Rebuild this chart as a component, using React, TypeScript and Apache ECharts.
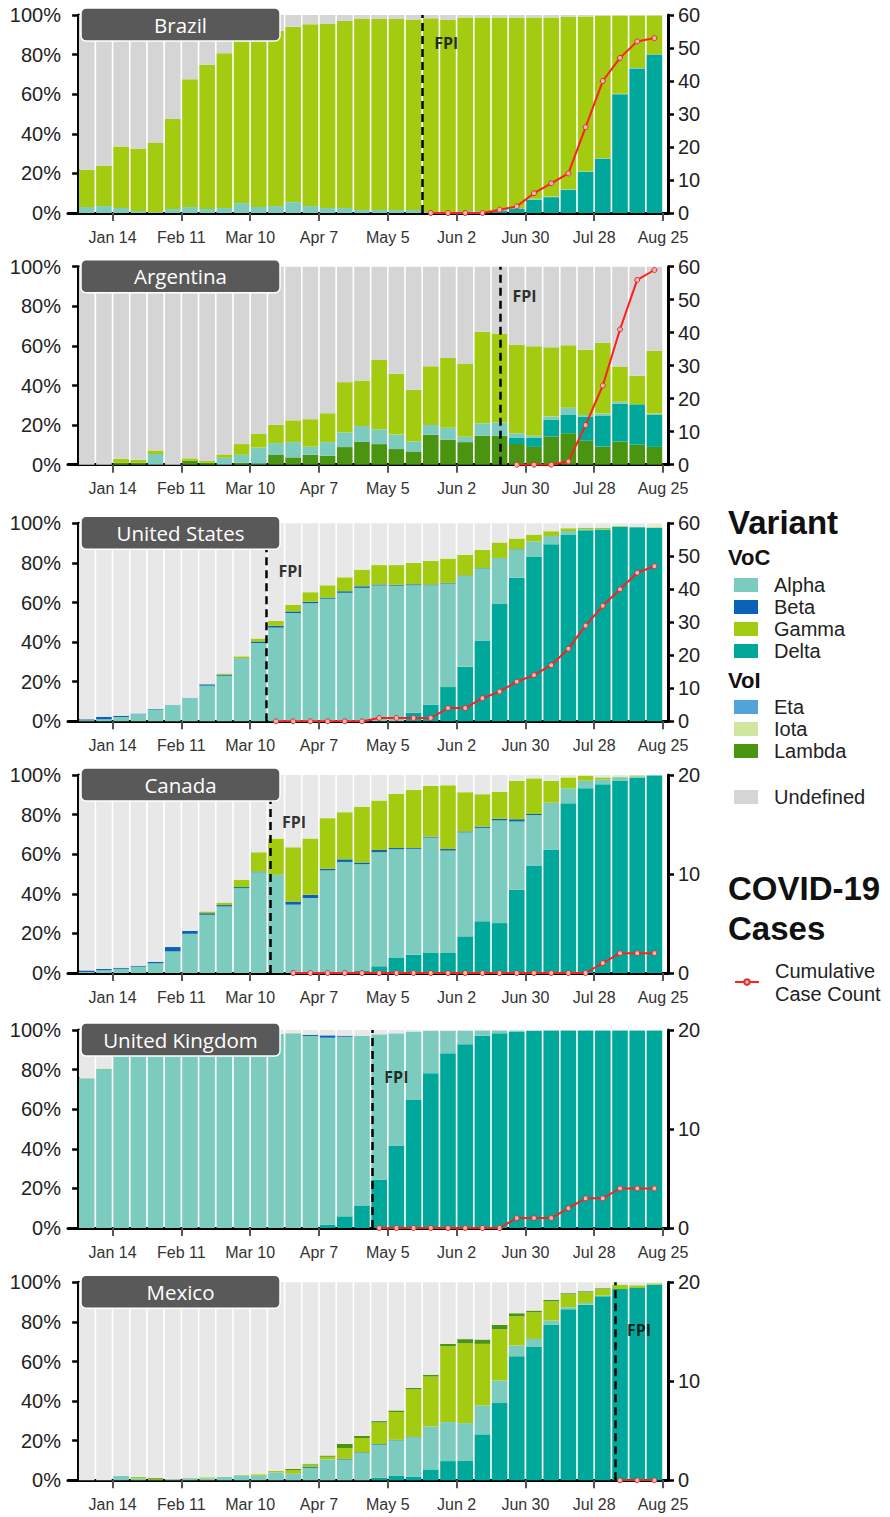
import React, { useEffect, useRef } from "react";
import * as echarts from "echarts";

// ---------- axis ticks ----------
const TICK_POS = [2, 6, 10, 14, 18, 22, 26, 30, 34];
const TICK_LABELS = ["Jan 14", "Feb 11", "Mar 10", "Apr 7", "May 5", "Jun 2", "Jun 30", "Jul 28", "Aug 25"];

// ---------- Brazil ----------
const BR_DELTA = [0, 0, 0, 0, 0, 0, 0, 0, 0, 0, 0, 0, 0, 0, 0, 0, 0, 0, 0, 0, 0, 0, 0.5, 0.5, 1, 2, 6.7, 8, 11.7, 20.8, 27.4, 60, 73, 80];
const BR_ALPHA = [3, 3.5, 2.5, 1, 0.5, 2, 3, 2, 2.5, 5, 3, 3.5, 5.5, 3.5, 2.5, 2.5, 1.5, 1.5, 1.5, 1.5, 0.5, 0.5, 0.5, 0.5, 0.5, 0.5, 0.5, 0.3, 0.3, 0.3, 0.3, 0.2, 0.2, 0.2];
const BR_GAMMA = [18.8, 20.4, 31.1, 31.6, 34.8, 45.6, 64.6, 72.8, 78.2, 83, 87, 88.5, 88.6, 91.8, 93, 94.5, 96.5, 96.5, 96.5, 96, 97.8, 97, 97.8, 97.8, 97.3, 96.3, 91.6, 90.5, 87, 78.2, 71.8, 39.5, 26.5, 19.6];
const BR_CASES_START = 20;
const BR_CASES = [0, 0, 0, 0, 1, 2, 6, 9, 12, 26, 40, 47, 52, 53];

// ---------- Argentina ----------
const AR_LAMBDA = [0, 0, 1, 1, 0, 0, 2, 1, 0, 1, 0.5, 4.9, 3.7, 5, 4.5, 8.9, 11.5, 10.4, 7.9, 6.7, 15.1, 12.7, 11.4, 14.6, 14.6, 10.4, 9, 14.2, 15.9, 12.1, 9.2, 11.7, 10.1, 9];
const AR_DELTA = [0, 0, 0, 0, 0, 0, 0, 0, 0, 0, 0, 0, 0, 0, 0, 0, 0, 0, 0, 0, 0, 0, 0, 0, 0, 3.3, 4.7, 8.6, 9.2, 12.2, 15.4, 19.1, 20.4, 16.1];
const AR_ALPHA = [0, 0, 0, 0, 5.4, 0, 0, 0, 3.5, 4, 8.2, 6, 7.7, 4.1, 6.9, 7.4, 8, 7.5, 7.3, 5, 5, 5.9, 2.7, 6.2, 6.7, 2.2, 0.9, 1.5, 3.7, 0.8, 1.2, 1, 0, 0.7];
const AR_GAMMA = [0, 0, 2, 1.5, 1.8, 0, 1.2, 1, 1.7, 5.4, 6.8, 9.3, 11, 13.9, 14.6, 25.4, 23, 35, 30.7, 26.2, 29.6, 35.3, 37, 46.4, 44.9, 44.6, 45.2, 35, 31.5, 33, 35.8, 17.8, 14.4, 31.8];
const AR_CASES_START = 25;
const AR_CASES = [0, 0, 0, 1, 12, 24, 41, 56, 59];

// ---------- United States ----------
const US_DELTA = [0, 0, 0, 0, 0, 0, 0, 0, 0, 0, 0, 0, 0, 0, 0, 0, 0, 0, 0, 4.4, 8.4, 17.3, 27.5, 40.8, 59.2, 72.5, 83.2, 89.4, 94.1, 96.5, 96.6, 98.3, 98, 97.6];
const US_ALPHA = [0.6, 1, 2.2, 3.4, 5.7, 8, 11.5, 18, 23, 31.2, 39.6, 47.3, 54.7, 59.7, 61.9, 64.9, 67.4, 68.6, 68.5, 64.4, 60.4, 52.3, 46, 36.4, 23.2, 14.4, 7.6, 4.2, 2, 0.5, 0.5, 0.1, 0.1, 0.1];
const US_BETA = [0.4, 1.3, 0.6, 0, 0, 0, 0, 0.7, 0.5, 0, 0.7, 0.9, 0.8, 0.7, 0.6, 0.8, 0.8, 0.5, 0.4, 0.4, 0.3, 0.3, 0.2, 0.2, 0.1, 0.1, 0, 0, 0, 0, 0, 0, 0, 0];
const US_ETA = [0, 0, 0, 0.6, 0.5, 0.4, 0.4, 0, 0, 0.6, 0, 0, 0, 0, 0, 0, 0, 0, 0, 0, 0, 0, 0, 0, 0, 0, 0, 0, 0, 0, 0, 0, 0, 0];
const US_GAMMA = [0, 0, 0, 0, 0, 0, 0, 0, 0.7, 1, 1.5, 2.5, 3.4, 4.8, 6.2, 7, 8.4, 9.8, 10, 10.8, 11.9, 12.3, 10.4, 9.2, 7.8, 5.3, 3.5, 2.4, 1.4, 0.8, 0.7, 0.3, 0.2, 0.3];
const US_CASES_START = 11;
const US_CASES = [0, 0, 0, 0, 0, 0, 1, 1, 1, 1, 4, 4, 7, 9, 12, 14, 17, 22, 29, 35, 40, 45, 47];

// ---------- Canada ----------
const CA_DELTA = [0, 0, 0, 0, 0, 0, 0, 0, 0, 0, 0, 0, 0, 0, 0, 0, 1.3, 3.4, 7.6, 9.2, 10.1, 10.1, 18.5, 26.1, 25.2, 42, 54.3, 62.2, 85.7, 93.3, 95.3, 97, 98.8, 99.8];
const CA_ALPHA = [0.5, 1.4, 2.2, 3.2, 4.9, 10.9, 19.8, 29.4, 33.6, 42.9, 50.9, 49.6, 34.5, 37.8, 51.8, 56.1, 53.7, 57.6, 54.9, 53.5, 58.3, 51.7, 52.5, 47.2, 51.9, 34.5, 25.5, 23.8, 7.6, 3.8, 2.5, 1.8, 0.5, 0.2];
const CA_BETA = [0.8, 0.6, 0.5, 0.5, 0.8, 2.2, 1.4, 0.8, 0.7, 0.5, 0.4, 0, 1.6, 1.7, 0.8, 1.3, 0.8, 1.1, 0.6, 0.4, 0.4, 0.8, 0.5, 0.6, 0.8, 1.2, 0.5, 0, 0, 0, 0, 0, 0, 0];
const CA_GAMMA = [0, 0, 0, 0, 0, 0, 0, 0.9, 1.3, 3.7, 9.7, 18.3, 27.4, 28.4, 25.6, 23.8, 28.2, 25, 27.3, 29.3, 25.7, 32.2, 19.8, 16.4, 13.7, 19.3, 18, 11.1, 5.5, 2.6, 1, 0.4, 0.5, 0];
const CA_CASES_START = 12;
const CA_CASES = [0, 0, 0, 0, 0, 0, 0, 0, 0, 0, 0, 0, 0, 0, 0, 0, 0, 0, 1, 2, 2, 2];

// ---------- United Kingdom ----------
const UK_DELTA = [0, 0, 0, 0, 0, 0, 0, 0, 0, 0, 0, 0, 0, 0, 1.7, 5.9, 11.4, 24.4, 41.7, 64.7, 78.2, 88.2, 92.8, 97.1, 98.3, 99.3, 99.5, 99.7, 99.7, 99.7, 99.7, 99.7, 99.7, 99.7];
const UK_ALPHA = [75.6, 80.3, 87, 89, 91, 92.5, 94, 95, 96, 97, 97.5, 98, 98.3, 97, 94.4, 90.7, 85.7, 73.4, 56.6, 34.5, 21.3, 11.4, 6.9, 2.7, 1.5, 0.5, 0.3, 0.2, 0.2, 0.2, 0.2, 0.2, 0.2, 0.2];
const UK_BETA = [0, 0, 0, 0, 0, 0, 0, 0, 0, 0, 0, 0, 0, 0.5, 1.2, 0.5, 0, 0, 0, 0, 0, 0, 0, 0, 0, 0, 0, 0, 0, 0, 0, 0, 0, 0];
const UK_IOTA = [0.4, 0.4, 0, 0, 0, 0, 0, 0, 0, 0, 0, 0, 0.3, 0.3, 0, 0, 0, 0, 0, 0, 0, 0, 0, 0, 0, 0, 0, 0, 0, 0, 0, 0, 0, 0];
const UK_CASES_START = 17;
const UK_CASES = [0, 0, 0, 0, 0, 0, 0, 0, 1, 1, 1, 2, 3, 3, 4, 4, 4];

// ---------- Mexico ----------
const MX_DELTA = [0, 0, 0, 0, 0, 0, 0, 0, 0, 0, 0, 0, 0, 0, 0, 0, 0, 1.3, 2.2, 1.7, 5.5, 9.7, 10, 23.2, 39, 62.7, 67.6, 78.5, 86.4, 88.7, 92.9, 96.6, 97.1, 98.8];
const MX_ALPHA = [0, 0, 2.3, 1, 0.2, 0.3, 1, 1, 1.7, 2.5, 2.3, 4, 3.3, 6.3, 10.5, 10.5, 13.8, 16.7, 18, 20.1, 21.7, 19.7, 18.9, 14.6, 11.4, 5.4, 3.8, 2.2, 1, 0.9, 0.4, 0, 0, 0];
const MX_BETA = [0, 0, 0, 0, 0, 0, 0, 0, 0, 0, 0, 0, 0, 0.4, 0, 0.3, 0.3, 0.3, 0.3, 0.3, 0, 0, 0, 0, 0, 0, 0, 0, 0, 0, 0, 0, 0, 0];
const MX_GAMMA = [0, 0, 0, 0.7, 0.6, 0, 0.2, 0.5, 0, 0.3, 0.7, 0.7, 1.9, 1.3, 1.4, 5.4, 7.2, 10.9, 14, 23.8, 25.2, 38.3, 40.3, 31.1, 25.9, 14.8, 13.5, 9.7, 6.6, 5.4, 3.3, 2.2, 1.4, 0.7];
const MX_LAMBDA = [0, 0, 0, 0, 0.4, 0, 0, 0, 0, 0, 0, 0, 0.5, 0.4, 0.6, 2.2, 1.1, 0.7, 0.8, 0.8, 0.9, 1.2, 2.1, 2.2, 2.2, 1.5, 0.8, 0.7, 0.5, 0.5, 0.4, 0, 0, 0];
const MX_CASES_START = 31;
const MX_CASES = [0, 0, 0];

// ---------- styling ----------
const COLORS: Record<string, string> = {
  Alpha: "#7BCBBF",
  Beta: "#0B61B5",
  Gamma: "#A3CB0F",
  Delta: "#00A89B",
  Eta: "#52A4D8",
  Iota: "#CFE69C",
  Lambda: "#4B9412",
};
const GRAY_DARK = "#D5D5D5";
const GRAY_LIGHT = "#E8E8E8";
const FONT = 'Arial, "Liberation Sans", sans-serif';
const XMIN = -0.59;
const XMAX = 34.29;
const GRID_LEFT = 68;
const GRID_WIDTH = 600;
const GRID_HEIGHT = 198;
const BAR_W = 15.6;

type StackItem = { name: string; values: number[] };
type Panel = {
  country: string;
  top: number;
  rightMax: number;
  undefColor: string;
  fpi: number;
  fpiLabelY: number;
  stack: StackItem[];
  casesStart: number;
  cases: number[];
};

const PANELS: Panel[] = [
  {
    country: "Brazil", top: 15, rightMax: 60, undefColor: GRAY_DARK, fpi: 20, fpiLabelY: 86,
    stack: [{ name: "Delta", values: BR_DELTA }, { name: "Alpha", values: BR_ALPHA }, { name: "Gamma", values: BR_GAMMA }],
    casesStart: BR_CASES_START, cases: BR_CASES,
  },
  {
    country: "Argentina", top: 266.7, rightMax: 60, undefColor: GRAY_DARK, fpi: 24.55, fpiLabelY: 85,
    stack: [{ name: "Lambda", values: AR_LAMBDA }, { name: "Delta", values: AR_DELTA }, { name: "Alpha", values: AR_ALPHA }, { name: "Gamma", values: AR_GAMMA }],
    casesStart: AR_CASES_START, cases: AR_CASES,
  },
  {
    country: "United States", top: 523.3, rightMax: 60, undefColor: GRAY_LIGHT, fpi: 10.95, fpiLabelY: 76,
    stack: [{ name: "Delta", values: US_DELTA }, { name: "Alpha", values: US_ALPHA }, { name: "Beta", values: US_BETA }, { name: "Eta", values: US_ETA }, { name: "Gamma", values: US_GAMMA }],
    casesStart: US_CASES_START, cases: US_CASES,
  },
  {
    country: "Canada", top: 775, rightMax: 20, undefColor: GRAY_LIGHT, fpi: 11.15, fpiLabelY: 76.4,
    stack: [{ name: "Delta", values: CA_DELTA }, { name: "Alpha", values: CA_ALPHA }, { name: "Beta", values: CA_BETA }, { name: "Gamma", values: CA_GAMMA }],
    casesStart: CA_CASES_START, cases: CA_CASES,
  },
  {
    country: "United Kingdom", top: 1030, rightMax: 20, undefColor: GRAY_LIGHT, fpi: 17.1, fpiLabelY: 76.4,
    stack: [{ name: "Delta", values: UK_DELTA }, { name: "Alpha", values: UK_ALPHA }, { name: "Beta", values: UK_BETA }, { name: "Iota", values: UK_IOTA }],
    casesStart: UK_CASES_START, cases: UK_CASES,
  },
  {
    country: "Mexico", top: 1282.3, rightMax: 20, undefColor: GRAY_LIGHT, fpi: 31.2, fpiLabelY: 76,
    stack: [{ name: "Delta", values: MX_DELTA }, { name: "Alpha", values: MX_ALPHA }, { name: "Beta", values: MX_BETA }, { name: "Gamma", values: MX_GAMMA }, { name: "Lambda", values: MX_LAMBDA }],
    casesStart: MX_CASES_START, cases: MX_CASES,
  },
];

function buildOption() {
  const grid: any[] = [];
  const xAxis: any[] = [];
  const yAxis: any[] = [];
  const series: any[] = [];
  const graphic: any[] = [];

  const pxPerUnit = GRID_WIDTH / (XMAX - XMIN);

  PANELS.forEach((p, i) => {
    const n = p.stack[0].values.length;
    const frameGrid = 2 * i;
    const barGrid = 2 * i + 1;
    grid.push({ left: GRID_LEFT, width: GRID_WIDTH, top: p.top, height: GRID_HEIGHT });
    grid.push({
      left: GRID_LEFT + (0 - XMIN) * pxPerUnit,
      width: n * pxPerUnit,
      top: p.top,
      height: GRID_HEIGHT,
    });

    const frameX = xAxis.length;
    xAxis.push({
      type: "value",
      gridIndex: frameGrid,
      min: XMIN,
      max: XMAX,
      splitLine: { show: false },
      axisLine: { show: true, onZero: false, lineStyle: { color: "#000", width: 3 } },
      axisTick: { show: true, customValues: TICK_POS, length: 8, lineStyle: { color: "#555", width: 2 } },
      axisLabel: {
        customValues: TICK_POS,
        formatter: (v: number) => {
          const k = TICK_POS.indexOf(Math.round(v));
          return k >= 0 ? TICK_LABELS[k] : "";
        },
        fontSize: 16,
        color: "#333",
        fontFamily: FONT,
        margin: 16,
      },
    });
    const barX = xAxis.length;
    xAxis.push({
      type: "category",
      gridIndex: barGrid,
      data: Array.from({ length: n }, (_, k) => String(k)),
      show: false,
    });

    const yCommon = {
      type: "value",
      gridIndex: frameGrid,
      min: 0,
      splitLine: { show: false },
      axisLine: { show: true, lineStyle: { color: "#000", width: 3 } },
      axisTick: { show: true, length: 6, lineStyle: { color: "#000", width: 2.5 } },
    };
    const leftY = yAxis.length;
    yAxis.push({
      ...yCommon,
      position: "left",
      max: 100,
      interval: 20,
      axisLabel: { formatter: "{value}%", fontSize: 20, color: "#222", fontFamily: FONT, margin: 7 },
    });
    const rightY = yAxis.length;
    yAxis.push({
      ...yCommon,
      position: "right",
      max: p.rightMax,
      interval: 10,
      axisLabel: { fontSize: 20, color: "#222", fontFamily: FONT, margin: 10 },
    });
    const barY = yAxis.length;
    yAxis.push({ type: "value", gridIndex: barGrid, min: 0, max: 100, show: false, splitLine: { show: false } });

    const barSeries = (name: string, values: number[], color: string) => ({
      type: "bar",
      name,
      xAxisIndex: barX,
      yAxisIndex: barY,
      stack: "panel" + i,
      barWidth: BAR_W,
      silent: true,
      itemStyle: { color },
      data: values,
    });
    p.stack.forEach((s) => series.push(barSeries(s.name, s.values, COLORS[s.name])));
    const undef = Array.from({ length: n }, (_, k) =>
      Math.max(0, 100 - p.stack.reduce((acc, s) => acc + s.values[k], 0))
    );
    series.push(barSeries("Undefined", undef, p.undefColor));

    series.push({
      type: "line",
      name: "Cumulative Case Count",
      xAxisIndex: frameX,
      yAxisIndex: rightY,
      silent: true,
      z: 5,
      symbol: "circle",
      symbolSize: 5,
      lineStyle: { color: "#FF1F1F", width: 2 },
      itemStyle: { color: "#F6B3B3", borderColor: "#D8302A", borderWidth: 1 },
      data: p.cases.map((v, k) => [p.casesStart + k + 0.5, v]),
      markLine: {
        silent: true,
        symbol: ["none", "none"],
        label: { show: false },
        lineStyle: { color: "#000", width: 2.5, type: [8, 5] },
        data: [{ xAxis: p.fpi }],
      },
    });
    series.push({
      type: "scatter",
      name: "fpi-label-" + i,
      xAxisIndex: frameX,
      yAxisIndex: leftY,
      silent: true,
      symbolSize: 0,
      z: 6,
      data: [[p.fpi, p.fpiLabelY]],
      label: {
        show: true,
        formatter: "FPI",
        position: "right",
        distance: 12,
        fontSize: 16,
        fontWeight: "bold",
        color: "#000",
        fontFamily: '"Open Sans", sans-serif',
      },
    });

    graphic.push({
      type: "rect",
      z: 100,
      shape: { x: 81, y: p.top - 7, width: 199, height: 33, r: 5 },
      style: { fill: "#595959", stroke: "#fff", lineWidth: 1.5 },
    });
    graphic.push({
      type: "text",
      z: 101,
      x: 180.5,
      y: p.top + 9.5,
      style: {
        text: p.country,
        fill: "#fff",
        fontSize: 20.5,
        fontFamily: '"Open Sans", sans-serif',
        align: "center",
        verticalAlign: "middle",
      },
    });
  });

  const titleText = (text: string, y: number, size: number) => ({
    type: "text",
    z: 100,
    x: 728,
    y,
    style: { text, fill: "#111", fontSize: size, fontWeight: "bold", fontFamily: FONT, verticalAlign: "middle" },
  });
  graphic.push(titleText("Variant", 522, 33));
  graphic.push(titleText("VoC", 557, 22));
  graphic.push(titleText("VoI", 680, 22));
  graphic.push(titleText("COVID-19", 888, 33));
  graphic.push(titleText("Cases", 928, 33));

  const legendBase = {
    orient: "vertical",
    left: 734,
    padding: 0,
    itemGap: 0,
    itemWidth: 24,
    itemHeight: 14,
    selectedMode: false,
    textStyle: { fontSize: 20, color: "#222", fontFamily: FONT, lineHeight: 22, padding: [0, 0, 0, 11] },
  };
  const rectItems = (names: string[]) => names.map((name) => ({ name, icon: "rect" }));
  const legend = [
    { ...legendBase, top: 574, data: rectItems(["Alpha", "Beta", "Gamma", "Delta"]) },
    { ...legendBase, top: 696, data: rectItems(["Eta", "Iota", "Lambda"]) },
    { ...legendBase, top: 786, data: rectItems(["Undefined"]) },
    {
      ...legendBase,
      top: 959,
      itemHeight: 7,
      data: ["Cumulative Case Count"],
      formatter: () => "Cumulative\nCase Count",
      textStyle: { ...legendBase.textStyle, lineHeight: 23 },
    },
  ];

  return {
    animation: false,
    backgroundColor: "#fff",
    grid,
    xAxis,
    yAxis,
    series,
    graphic,
    legend,
  };
}

export default function App() {
  const ref = useRef<HTMLDivElement>(null);
  useEffect(() => {
    document.body.style.margin = "0";
    if (!ref.current) return;
    const chart = echarts.init(ref.current, undefined, { renderer: "svg" });
    chart.setOption(buildOption() as any);
    return () => chart.dispose();
  }, []);
  return <div ref={ref} style={{ width: 890, height: 1517 }} />;
}
